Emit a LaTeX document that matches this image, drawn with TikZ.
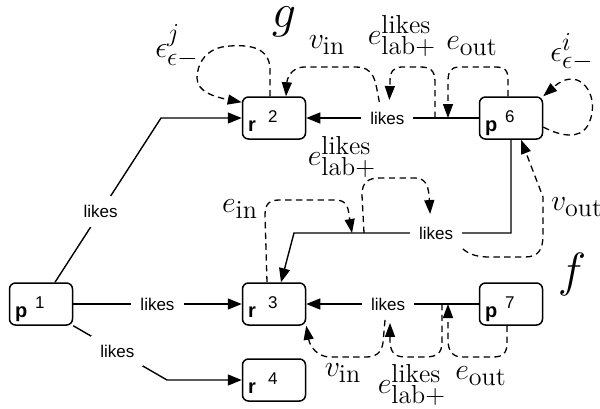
\RequirePackage{fix-cm}
\documentclass[tikz,border=0pt]{standalone}
\usepackage{fontspec}
\newfontfamily\lsans{Liberation Sans}
\DeclareMathSizes{15}{15}{13}{10}
\usetikzlibrary{arrows.meta,calc}
\tikzset{
  gbox/.style={draw, line width=0.75pt, rounded corners=3pt, minimum width=31.5pt, minimum height=21pt, inner sep=0pt},
  gletter/.style={font=\lsans\bfseries\fontsize{10}{11}\selectfont, inner sep=0pt},
  gdigit/.style={font=\lsans\fontsize{8.5}{10}\selectfont, inner sep=0pt},
  edge/.style={line width=0.7pt, -{Triangle[length=7pt,width=5.5pt]}},
  lbl/.style={font=\lsans\fontsize{8.5}{10}\selectfont, fill=white, inner sep=4.5pt},
  dsh/.style={line width=0.65pt, dash pattern=on 3.2pt off 2.2pt, -{Triangle[length=7pt,width=5pt]}},
  mlab/.style={font=\fontsize{15}{17}\selectfont, inner sep=0pt},
  biglab/.style={font=\fontsize{24}{28}\selectfont, inner sep=0pt},
}
\newcommand\gnode[4]{%
  \node[gbox] (#1) at (#2) {};
  \node[gletter, anchor=base west] (#1-t) at ($(#1.south west)+(6,-8)$) {#3};
  \node[gdigit, anchor=base west] (#1-n) at ($(#1.south west)+(26,-17)$) {#4};
}
\begin{document}
\begin{tikzpicture}[x=0.5pt,y=-0.5pt]
\useasboundingbox (0,0) rectangle (600,408);
% nodes
\gnode{p1}{41,304}{p}{1}
\gnode{r2}{274,118}{r}{2}
\gnode{r3}{274,304}{r}{3}
\gnode{r4}{274,380}{r}{4}
\gnode{p6}{511,118}{p}{6}
\gnode{p7}{511,304}{p}{7}
% bend coordinates
\coordinate (b12) at (161,118);
\coordinate (b14) at (167,380);
\coordinate (b63a) at (511,233);
\coordinate (b63b) at (294,233);
% main edges
\draw[edge] ([xshift=7pt]p1.north) -- node[lbl, pos=0.43] (l12) {likes} (b12) -- (r2.west);
\draw[edge] (p1.east) -- node[lbl, pos=0.5] (l13) {likes} (r3.west);
\draw[edge] (p1.south east) -- node[lbl, pos=0.47] (l14) {likes} (b14) -- (r4.west);
\draw[edge] (p6.west) -- node[lbl, pos=0.53] (l62) {likes} (r2.east);
\draw[edge] (p6.south) -- (b63a) -- node[lbl, pos=0.345] (l63) {likes} (b63b) -- ($(r3.north)+(7,0)$);
\draw[edge] (p7.west) -- node[lbl, pos=0.526] (l73) {likes} (r3.east);
% points on edges
\coordinate (t1) at (435,118);
\coordinate (t2) at (448,118);
\coordinate (t3) at (352,233);
\coordinate (t4) at (364,233);
\coordinate (t5) at (442,304);
\coordinate (t6) at (448,304);
% dashed: graph g
\draw[dsh] ($(r2.north)+(-4,0)$) -- (270,70) .. controls (270,45) and (245,45) .. (230,46) .. controls (205,47) and (197,65) .. (197,78) .. controls (197,92) and (215,97) .. ($(r2.north west)+(0,6)$);
\draw[dsh] ($(l62.north)+(-8,0)$) .. controls (375,80) and (375,67) .. (355,67) -- (305,67) .. controls (290,67) and (287,80) .. ($(r2.north)+(12,0)$);
\draw[dsh] (t1) -- (435,82) .. controls (435,70) and (430,67) .. (420,67) -- (402,67) .. controls (393,67) and (390,72) .. (390,82) -- ($(l62.north)+(2,-2)$);
\draw[dsh] ($(p6.north)+(-3,0)$) -- (508,80) .. controls (508,70) and (505,67) .. (495,67) -- (460,67) .. controls (450,67) and (448,72) .. (448,82) -- (t2);
\draw[dsh] ($(p6.east)+(0,9)$) .. controls (560,136) and (580,140) .. (588,125) .. controls (597,108) and (592,86) .. (577,80) .. controls (565,76) and (555,86) .. (p6.north east);
% dashed: graph f
\draw[dsh] ($(r3.north)+(-7,0)$) -- (265,215) .. controls (265,203) and (270,200) .. (280,200) -- (335,200) .. controls (345,200) and (348,205) .. (349,215) -- (t3);
\draw[dsh] (t4) -- (362,195) .. controls (362,182) and (368,178) .. (380,178) -- (415,178) .. controls (425,178) and (428,185) .. (429,195) -- ($(l63.north)+(-6,-3)$);
\draw[dsh] (l63.south east) .. controls (470,255) and (478,257) .. (490,257) -- (525,257) .. controls (538,257) and (543,250) .. (543,235) -- (543,197) -- ($(p6.south)+(10,0)$);
\draw[dsh] ($(l73.south)+(-3,0)$) -- (383,343) .. controls (381,354) and (375,357) .. (365,357) -- (330,357) .. controls (318,357) and (310,347) .. (r3.south east);
\draw[dsh] (t5) -- (442,342) .. controls (442,353) and (437,357) .. (425,357) -- (405,357) .. controls (393,357) and (390,350) .. (390,340) -- ($(l73.south)+(2,3)$);
\draw[dsh] ($(p7.south)+(-4,0)$) -- (507,343) .. controls (507,353) and (503,357) .. (493,357) -- (462,357) .. controls (452,357) and (448,350) .. (448,340) -- (t6);
% labels
\node[mlab] (lej) at (177,46) {$\epsilon^{j}_{\epsilon-}$};
\node[mlab] (lvin1) at (327,45) {$v_{\mathrm{in}}$};
\node[mlab] (lel1) at (402,36) {$e^{\mathrm{likes}}_{\mathrm{lab}+}$};
\node[mlab] (leo1) at (472,46) {$e_{\mathrm{out}}$};
\node[mlab] (lei) at (572,52) {$\epsilon^{i}_{\epsilon-}$};
\node[mlab] (lel2) at (342,157) {$e^{\mathrm{likes}}_{\mathrm{lab}+}$};
\node[mlab] (lein) at (240,209) {$e_{\mathrm{in}}$};
\node[mlab] (lvout) at (577,207) {$v_{\mathrm{out}}$};
\node[mlab] (lvin2) at (343,373) {$v_{\mathrm{in}}$};
\node[mlab] (lel3) at (412,385) {$e^{\mathrm{likes}}_{\mathrm{lab}+}$};
\node[mlab] (leo2) at (481,376) {$e_{\mathrm{out}}$};
\node[biglab] (lg) at (284,22) {$g$};
\node[biglab] (lf) at (572,274) {$f$};
\end{tikzpicture}
\end{document}
